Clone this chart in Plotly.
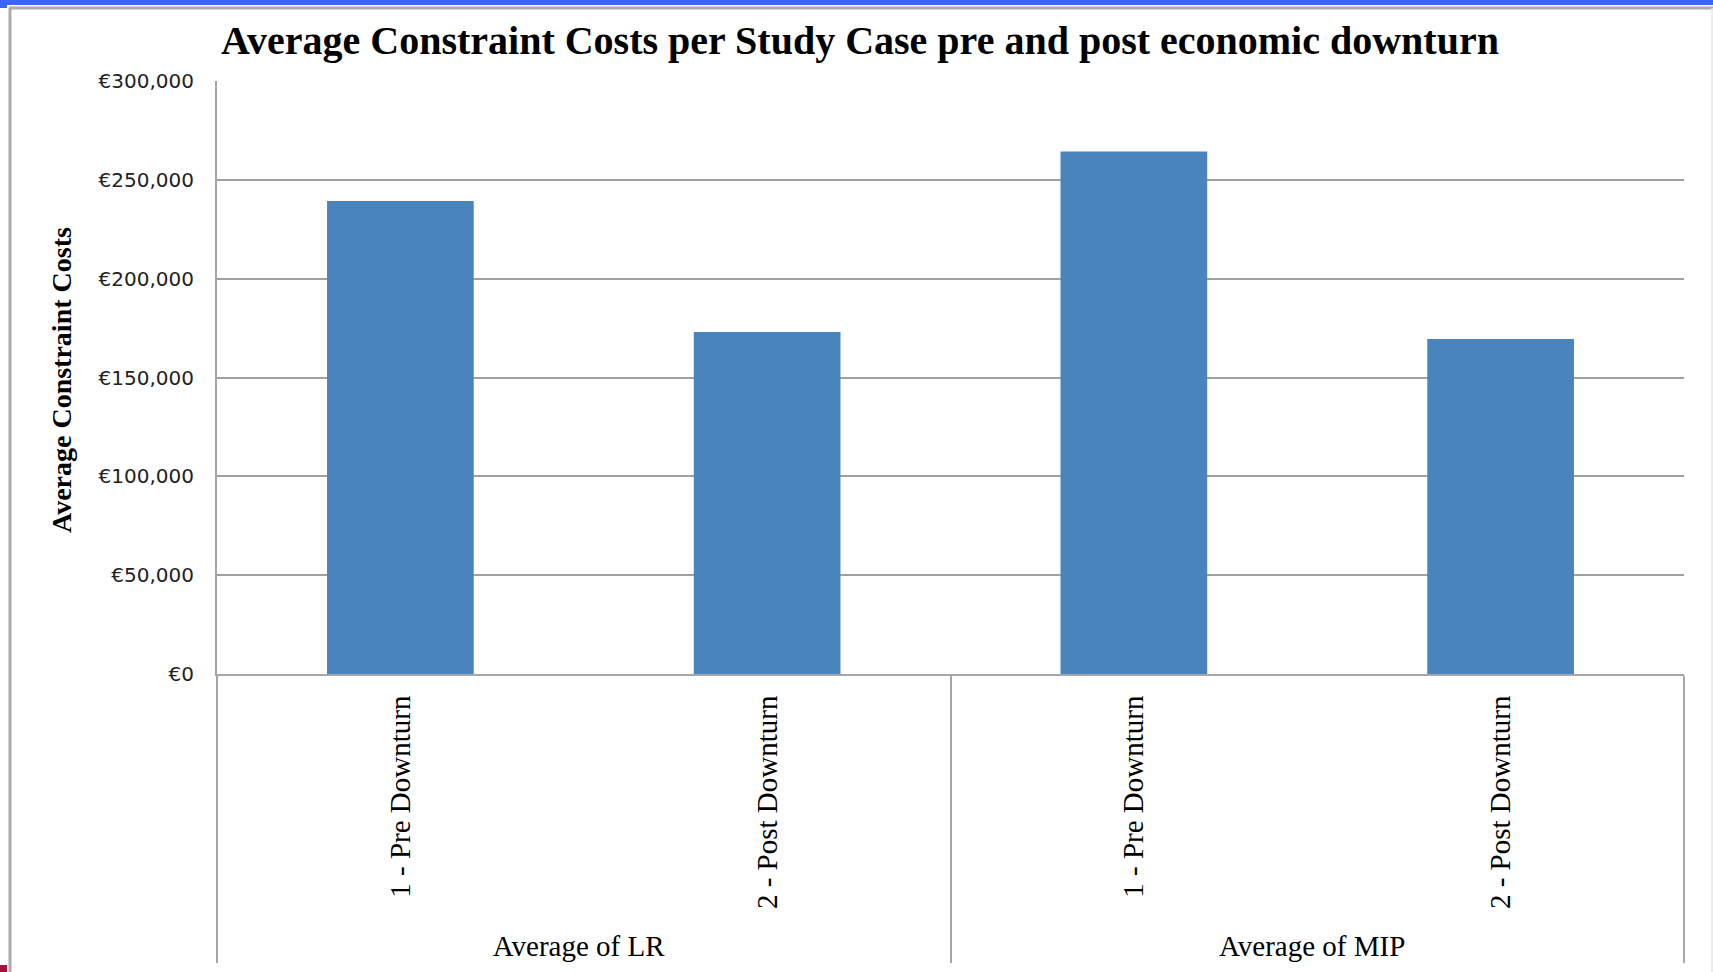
import plotly.graph_objects as go

# ---- data ----
groups = ["Average of LR", "Average of LR", "Average of MIP", "Average of MIP"]
cases = ["1 - Pre Downturn", "2 - Post Downturn", "1 - Pre Downturn", "2 - Post Downturn"]
costs = [239300, 173000, 264300, 169500]
y_ticks = [0, 50000, 100000, 150000, 200000, 250000, 300000]
y_tick_labels = ["\u20ac0", "\u20ac50,000", "\u20ac100,000", "\u20ac150,000",
                 "\u20ac200,000", "\u20ac250,000", "\u20ac300,000"]

W, H = 1713, 972
L, R, T, B = 217, 1684, 81, 674

def px_x(px):
    return (px - L) / (R - L)

def px_y(py):
    return (B - py) / (B - T)

fig = go.Figure()
fig.add_trace(go.Bar(
    x=[groups, cases], y=costs,
    marker=dict(color="#4A84BC", line=dict(width=0)),
    hoverinfo="x+y",
))

serif = "Liberation Serif, Times New Roman, serif"

fig.update_layout(
    width=W, height=H,
    margin=dict(l=L, r=W - R, t=T, b=H - B, autoexpand=False),
    paper_bgcolor="white", plot_bgcolor="white",
    showlegend=False,
    bargap=0.6,
    title=dict(
        text="<b>Average Constraint Costs per Study Case pre and post economic downturn</b>",
        font=dict(family=serif, size=40, color="black"),
        x=860 / W, xanchor="center", xref="container",
        y=1 - 40 / H, yanchor="middle", yref="container",
    ),
    xaxis=dict(
        type="multicategory",
        showline=True, linecolor="#A6A6A6", linewidth=2,
        showgrid=False, ticks="",
        tickangle=-90,
        ticklabelstandoff=8,
        tickfont=dict(family=serif, size=29, color="black"),
        showdividers=True, dividercolor="#A6A6A6", dividerwidth=2,
    ),
    yaxis=dict(
        range=[0, 300000], tickmode="array",
        tickvals=y_ticks, ticktext=y_tick_labels,
        showline=True, linecolor="#A6A6A6", linewidth=2,
        showgrid=True, gridcolor="#A0A0A0", gridwidth=1.5,
        zeroline=False, ticks="",
        ticklabelstandoff=17,
        tickfont=dict(family="DejaVu Sans, Verdana, sans-serif", size=20, color="#222222"),
    ),
)

# y-axis title
fig.add_annotation(
    text="<b>Average Constraint Costs</b>", textangle=-90,
    xref="paper", yref="paper", x=px_x(61), y=px_y(380),
    xanchor="center", yanchor="middle", showarrow=False,
    font=dict(family=serif, size=28, color="black"),
)

# frame decorations
shapes = [
    dict(type="rect", x0=px_x(0), x1=px_x(W), y0=px_y(5), y1=px_y(0),
         fillcolor="#3A66FF", line=dict(width=0)),
    dict(type="rect", x0=px_x(0), x1=px_x(7), y0=px_y(8), y1=px_y(0),
         fillcolor="#3A66FF", line=dict(width=0)),
    dict(type="line", x0=px_x(9), x1=px_x(W), y0=px_y(8), y1=px_y(8),
         line=dict(color="#ABABAB", width=3)),
    dict(type="line", x0=px_x(10), x1=px_x(10), y0=px_y(8), y1=px_y(H),
         line=dict(color="#ABABAB", width=3)),
    dict(type="line", x0=px_x(1712), x1=px_x(1712), y0=px_y(8), y1=px_y(H),
         line=dict(color="#E6E6E6", width=1.5)),
    dict(type="rect", x0=px_x(0), x1=px_x(7), y0=px_y(H), y1=px_y(965),
         fillcolor="#A3123F", line=dict(width=0)),
]
for s in shapes:
    s.update(xref="paper", yref="paper", layer="above")
fig.update_layout(shapes=shapes)

fig.write_html(
    "out.html",
    config={"displayModeBar": False},
    post_script="document.body.style.margin='0';document.body.style.overflow='hidden';",
)
